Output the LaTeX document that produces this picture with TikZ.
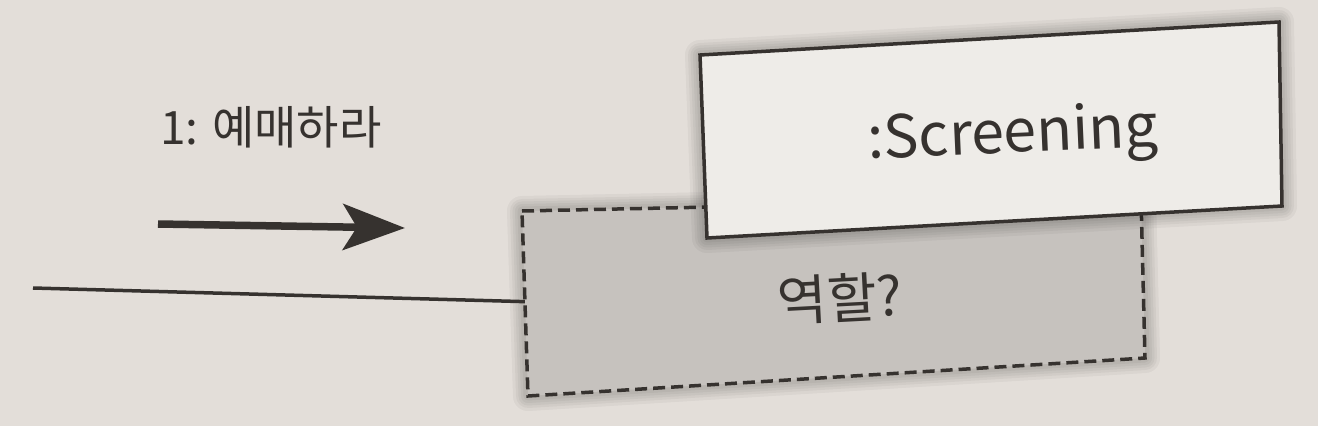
\documentclass[tikz,border=0pt]{standalone}
\usepackage{fontspec}
\setmainfont{Noto Sans CJK KR}
\usetikzlibrary{arrows.meta,calc}
\definecolor{paper}{HTML}{E3DED9}
\definecolor{ink}{HTML}{36322F}
\definecolor{rolefill}{HTML}{C6C2BE}
\definecolor{objfill}{HTML}{EEECE8}
\tikzset{
  boxline/.style={draw=ink, line width=3.5pt, line join=miter},
  rolebox/.style={boxline, dash pattern=on 12pt off 6pt, fill=rolefill},
  objbox/.style={boxline, fill=objfill},
  halo/.style={draw=black, opacity=0.04, line join=round},
  lbl/.style={text=ink, inner sep=0pt},
  msgarrow/.style={draw=ink, line width=7.5pt, -{Stealth[length=62pt,width=46pt,inset=14pt]}},
  linkline/.style={draw=ink, line width=3.5pt},
}
\begin{document}
\begin{tikzpicture}[x=1pt,y=-1pt]
\fill[paper] (0,0) rectangle (1318,426);
\useasboundingbox (0,0) rectangle (1318,426);
% role box corners
\coordinate (r1) at (522,211);
\coordinate (r2) at (1141,198);
\coordinate (r3) at (1145,358);
\coordinate (r4) at (528,396);
% object box corners
\coordinate (o1) at (700,55);
\coordinate (o2) at (1279,22);
\coordinate (o3) at (1282,206);
\coordinate (o4) at (707,238);
% role box
\foreach \w in {30,24,19,14,9}
  \draw[halo, line width=\w pt] (r1)--(r2)--(r3)--(r4)--cycle;
\draw[rolebox] (r1)--(r2)--(r3)--(r4)--cycle;
% object box
\foreach \w in {30,24,19,14,9}
  \draw[halo, line width=\w pt] (o1)--(o2)--(o3)--(o4)--cycle;
\draw[objbox] (o1)--(o2)--(o3)--(o4)--cycle;
% labels
\node[lbl, font=\fontsize{46}{50}\selectfont] (msg) at (271,127) {1: 예매하라};
\node[lbl, rotate=2.5, font=\fontsize{59}{63}\selectfont] (obj) at (1013,137) {:Screening};
\node[lbl, rotate=3, font=\fontsize{54}{58}\selectfont] (role) at (840,298) {역할?};
% link and message arrow
\coordinate (ls) at (33,288);
\coordinate (le) at ($(r1)!0.49!(r4)$);
\draw[linkline] (ls) -- (le);
\coordinate (as) at (158,224);
\coordinate (ae) at (405,228);
\draw[msgarrow] (as) -- (ae);
\end{tikzpicture}
\end{document}
